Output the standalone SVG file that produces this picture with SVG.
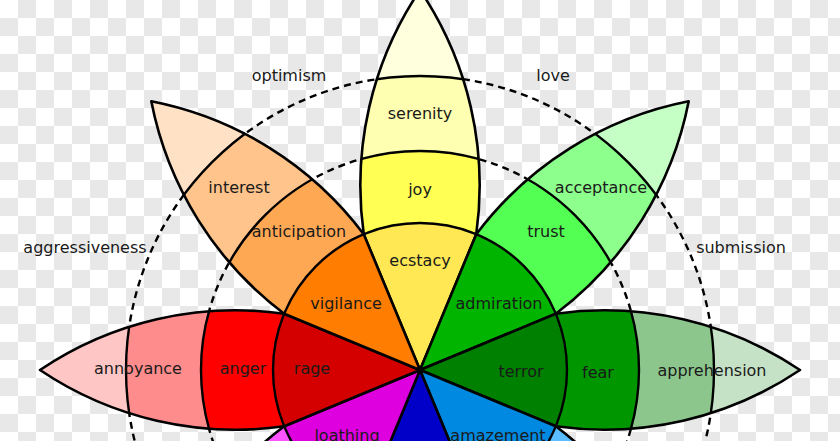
<svg xmlns="http://www.w3.org/2000/svg" xmlns:xlink="http://www.w3.org/1999/xlink" width="840" height="441" viewBox="0 0 840 441">
<style>
text{font-family:"DejaVu Sans","Liberation Sans",sans-serif;font-size:16px;fill:#1a1a1a;text-anchor:middle}
.ring{stroke:#000;stroke-width:2.4}
.outline{fill:none;stroke:#000;stroke-width:2.6;stroke-linejoin:round}
.dash{fill:none;stroke:#000;stroke-width:2.4;stroke-dasharray:7 5}
</style>
<defs>
<pattern id="checker" width="36" height="36" patternUnits="userSpaceOnUse">
<rect width="36" height="36" fill="#ffffff"/>
<rect x="18" y="0" width="18" height="18" fill="#e8e8e8"/>
<rect x="0" y="18" width="18" height="18" fill="#e8e8e8"/>
</pattern>
<path id="petal" d="M0,0 L56.25,-135.81 A350,350 0 0 0 0,-380 A350,350 0 0 0 -56.25,-135.81 Z"/>
<clipPath id="pc"><use xlink:href="#petal"/></clipPath>
</defs>
<rect width="840" height="441" fill="url(#checker)"/>
<g id="dyad-circles">
<circle class="dash" cx="420" cy="370" r="219"/>
<circle class="dash" cx="420" cy="370" r="294"/>
</g>
<g id="dyad-labels">
<text x="289" y="81">optimism</text>
<text x="553" y="81">love</text>
<text x="85" y="253">aggressiveness</text>
<text x="741" y="253">submission</text>
</g>
<g id="joy">
<g transform="translate(420,370) rotate(0)">
<g clip-path="url(#pc)">
<use xlink:href="#petal" fill="#ffffdd"/>
<circle class="ring" r="294" fill="#ffffb1"/>
<circle class="ring" r="219" fill="#ffff54"/>
<circle class="ring" r="147" fill="#ffe854"/>
</g>
<use xlink:href="#petal" class="outline"/>
</g>
<text x="420" y="119">serenity</text>
<text x="420" y="195">joy</text>
<text x="420" y="266">ecstacy</text>
</g>
<g id="trust">
<g transform="translate(420,370) rotate(45)">
<g clip-path="url(#pc)">
<use xlink:href="#petal" fill="#c6ffc6"/>
<circle class="ring" r="294" fill="#8cff8c"/>
<circle class="ring" r="219" fill="#54ff54"/>
<circle class="ring" r="147" fill="#00b400"/>
</g>
<use xlink:href="#petal" class="outline"/>
</g>
<text x="601" y="193">acceptance</text>
<text x="546" y="237">trust</text>
<text x="499" y="309">admiration</text>
</g>
<g id="fear">
<g transform="translate(420,370) rotate(90)">
<g clip-path="url(#pc)">
<use xlink:href="#petal" fill="#c6e2c6"/>
<circle class="ring" r="294" fill="#8cc68c"/>
<circle class="ring" r="219" fill="#009600"/>
<circle class="ring" r="147" fill="#008000"/>
</g>
<use xlink:href="#petal" class="outline"/>
</g>
<text x="712" y="376">apprehension</text>
<text x="598" y="378">fear</text>
<text x="521" y="377">terror</text>
</g>
<g id="surprise">
<g transform="translate(420,370) rotate(135)">
<g clip-path="url(#pc)">
<use xlink:href="#petal" fill="#d2edff"/>
<circle class="ring" r="294" fill="#a5dbff"/>
<circle class="ring" r="219" fill="#59bdff"/>
<circle class="ring" r="147" fill="#0089e0"/>
</g>
<use xlink:href="#petal" class="outline"/>
</g>
<text x="498" y="441">amazement</text>
</g>
<g id="sadness">
<g transform="translate(420,370) rotate(180)">
<g clip-path="url(#pc)">
<use xlink:href="#petal" fill="#c6c6ff"/>
<circle class="ring" r="294" fill="#8c8cff"/>
<circle class="ring" r="219" fill="#5151ff"/>
<circle class="ring" r="147" fill="#0000c8"/>
</g>
<use xlink:href="#petal" class="outline"/>
</g>
</g>
<g id="disgust">
<g transform="translate(420,370) rotate(225)">
<g clip-path="url(#pc)">
<use xlink:href="#petal" fill="#ffe2ff"/>
<circle class="ring" r="294" fill="#ffc6ff"/>
<circle class="ring" r="219" fill="#ff54ff"/>
<circle class="ring" r="147" fill="#de00de"/>
</g>
<use xlink:href="#petal" class="outline"/>
</g>
<text x="347" y="441">loathing</text>
</g>
<g id="anger">
<g transform="translate(420,370) rotate(270)">
<g clip-path="url(#pc)">
<use xlink:href="#petal" fill="#ffc6c6"/>
<circle class="ring" r="294" fill="#ff8c8c"/>
<circle class="ring" r="219" fill="#ff0000"/>
<circle class="ring" r="147" fill="#d40000"/>
</g>
<use xlink:href="#petal" class="outline"/>
</g>
<text x="138" y="374">annoyance</text>
<text x="243" y="374">anger</text>
<text x="312" y="374">rage</text>
</g>
<g id="anticipation">
<g transform="translate(420,370) rotate(315)">
<g clip-path="url(#pc)">
<use xlink:href="#petal" fill="#ffe2c6"/>
<circle class="ring" r="294" fill="#ffc48c"/>
<circle class="ring" r="219" fill="#ffa854"/>
<circle class="ring" r="147" fill="#ff7d00"/>
</g>
<use xlink:href="#petal" class="outline"/>
</g>
<text x="239" y="193">interest</text>
<text x="299" y="237">anticipation</text>
<text x="346" y="309">vigilance</text>
</g>
<g id="connectors"></g>
</svg>
